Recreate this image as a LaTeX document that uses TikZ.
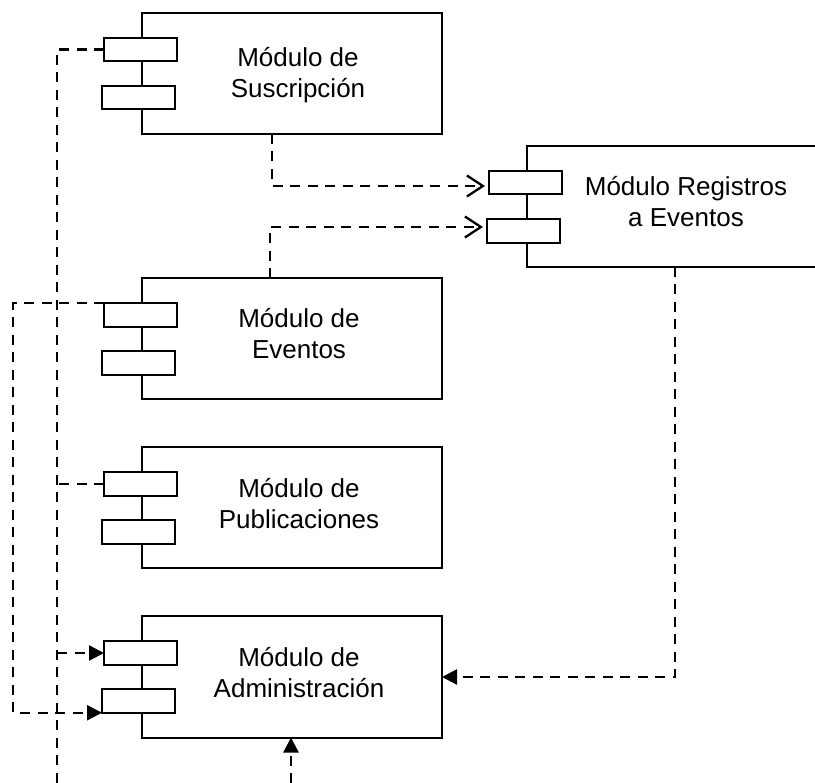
\documentclass[tikz,border=0pt]{standalone}
\usepackage{fontspec}
\setmainfont{Liberation Sans}
\usetikzlibrary{arrows.meta,calc}
\begin{document}
\begin{tikzpicture}[x=1pt,y=-1pt,
  comp/.style={draw,line width=2pt,minimum width=300pt,minimum height=121pt,inner sep=0pt,outer sep=0pt},
  port/.style={draw,fill=white,line width=2pt,minimum width=73pt,minimum height=23.5pt,inner sep=0pt,outer sep=0pt},
  lbl/.style={font=\fontsize{26}{31}\selectfont,align=center,inner sep=0pt},
  dep/.style={line width=2.3pt,dash pattern=on 10pt off 7.5pt},
  openarrow/.style={-{Straight Barb[length=16pt,width=21pt]}},
  filledarrow/.style={-{Triangle[length=15pt,width=15pt]}}]
\useasboundingbox (0,0) rectangle (815,783);
\clip (0,0) rectangle (815,783);
% components
\node[comp] (sus) at (292,73.5) {};
\node[comp,minimum width=296pt] (reg) at (675,206.5) {};
\node[comp] (ev) at (292,339) {};
\node[comp] (pub) at (292,508) {};
\node[comp] (adm) at (292,677) {};
% ports
\node[port] (sp1) at (140.5,49.5) {};
\node[port] (sp2) at (138.5,97.5) {};
\node[port] (rp1) at (525.5,182.5) {};
\node[port] (rp2) at (523.5,231) {};
\node[port] (ep1) at (140.5,315) {};
\node[port] (ep2) at (138.5,363) {};
\node[port] (pp1) at (140.5,484) {};
\node[port] (pp2) at (138.5,532) {};
\node[port] (ap1) at (140.5,653) {};
\node[port] (ap2) at (138.5,701) {};
% labels
\node[lbl] (tsus) at (298,75) {Módulo de\\Suscripción};
\node[lbl] (treg) at (686,202) {Módulo Registros\\a Eventos};
\node[lbl] (tev) at (299,334) {Módulo de\\Eventos};
\node[lbl] (tpub) at (299,503.5) {Módulo de\\Publicaciones};
\node[lbl] (tadm) at (299,672.5) {Módulo de\\Administración};
% helper coordinates
\coordinate (colA) at (57,783);
\coordinate (colB) at (13,0);
\coordinate (bot) at (291,783);
% connectors
\draw[dep] (sp1.west) -| (colA);
\draw[dep] (pp1.west) -- (pp1.west -| colA);
\draw[dep,filledarrow] (ap1.west -| colA) -- (ap1.west);
\draw[dep,filledarrow] (ep1.north west) -- (ep1.north west -| colB) -- (ap2.south west -| colB) -- (ap2.south west);
\draw[dep,openarrow,shorten >=4pt] ($(sus.south west)+(130,0)$) |- ([yshift=-3.5pt]rp1.west);
\draw[dep,openarrow,shorten >=4pt] ($(ev.north west)+(128,0)$) |- ([yshift=4pt]rp2.west);
\draw[dep,filledarrow] (reg.south) |- (adm.east);
\draw[dep,filledarrow] (bot) -- (bot |- adm.south);
\end{tikzpicture}
\end{document}
